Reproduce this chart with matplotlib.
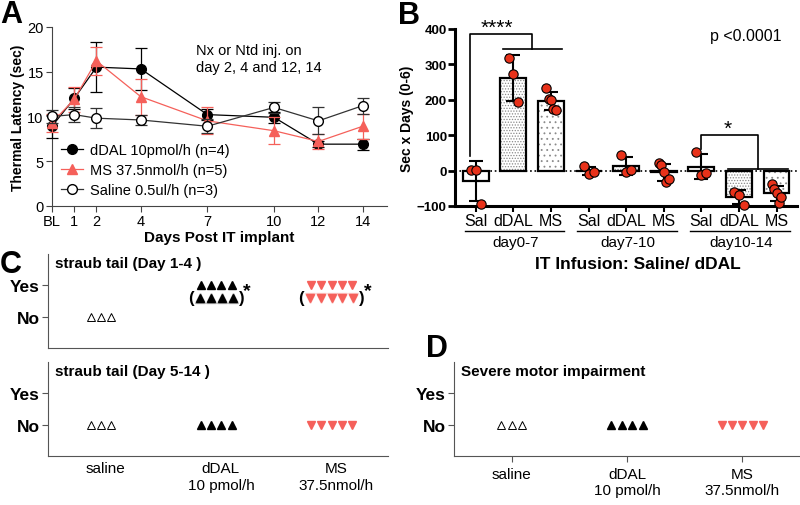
import numpy as np
import matplotlib.pyplot as plt

plt.rcParams['font.family'] = ['Liberation Sans', 'DejaVu Sans']
plt.rcParams['hatch.linewidth'] = 0.6

# ---- Panel A data: thermal latency over days
days = [0, 1, 2, 4, 7, 10, 12, 14]
day_labels = ['BL', '1', '2', '4', '7', '10', '12', '14']
ddal_mean = [8.9, 12.0, 15.5, 15.3, 10.2, 9.9, 6.9, 6.9]
ddal_err = [1.3, 1.2, 2.8, 2.3, 0.6, 0.6, 0.3, 0.6]
ms_mean = [9.3, 11.9, 16.2, 12.2, 9.5, 8.4, 7.2, 8.9]
ms_err = [1.0, 1.4, 1.6, 2.0, 1.5, 1.5, 0.8, 1.4]
sal_mean = [10.0, 10.2, 9.8, 9.6, 8.9, 11.0, 9.5, 11.2]
sal_err = [0.7, 0.8, 1.1, 0.6, 0.8, 0.6, 1.5, 0.9]

# ---- Panel B data: area (sec x days) per animal
b_groups = ['day0-7', 'day7-10', 'day10-14']
b_treat = ['Sal', 'dDAL', 'MS']
b_points = [
    [2, 2, -95], [319, 272, 193], [234, 201, 200, 173, 172],
    [13, -9, -5], [43, -3, 2], [22, 15, -5, -32, -25],
    [52, -12, -8], [-60, -69, -98], [-39, -53, -64, -93, -74],
]

# ---- Panel C/D data
cd_groups = ['saline', 'dDAL\n10 pmol/h', 'MS\n37.5nmol/h']
cd_counts = [3, 4, 5]
straub_early = [0, 1, 1]   # 1 = Yes, 0 = No
straub_late = [0, 0, 0]
motor = [0, 0, 0]

RED = '#F5605A'
fig = plt.figure(figsize=(8, 5.06), dpi=100)

# ================= A =================
axA = fig.add_axes([0.065, 0.591, 0.419, 0.354])
eb_d = axA.errorbar(days, ddal_mean, yerr=ddal_err, color='black', marker='o', ms=7,
                    lw=0.9, capsize=4, elinewidth=0.9, capthick=0.9, clip_on=False, zorder=3)
eb_m = axA.errorbar(days, ms_mean, yerr=ms_err, color=RED, marker='^', ms=7,
                    lw=0.9, capsize=4, elinewidth=0.9, capthick=0.9, clip_on=False, zorder=4)
eb_s = axA.errorbar(days, sal_mean, yerr=sal_err, color='#333333', marker='o', ms=7,
                    mfc='white', mec='black', lw=0.9, capsize=4, elinewidth=0.9,
                    capthick=0.9, clip_on=False, zorder=5)
axA.set_xlim(0, 15.1)
axA.set_ylim(0, 20)
axA.set_xticks(days, day_labels)
axA.set_yticks([0, 5, 10, 15, 20])
for s in ['top', 'right']:
    axA.spines[s].set_visible(False)
for s in ['left', 'bottom']:
    axA.spines[s].set_color('#444444')
axA.tick_params(labelsize=10.5, length=4, color='#444444', pad=2)
axA.set_xlabel('Days Post IT implant', fontsize=11, fontweight='bold', labelpad=1)
axA.set_ylabel('Thermal Latency (sec)', fontsize=10, fontweight='bold', labelpad=2)
axA.legend([eb_d[0], eb_m[0], eb_s[0]],
           ['dDAL 10pmol/h (n=4)', 'MS 37.5nmol/h (n=5)', 'Saline 0.5ul/h (n=3)'],
           loc='lower left', bbox_to_anchor=(0.0, 0.0), frameon=False, fontsize=10.5,
           handlelength=1.5, labelspacing=0.42, handletextpad=0.5, borderaxespad=0.2)
axA.text(0.43, 0.91, 'Nx or Ntd inj. on\nday 2, 4 and 12, 14', transform=axA.transAxes,
         fontsize=10.5, va='top', ha='left', linespacing=1.25)

# ================= B =================
axB = fig.add_axes([0.569, 0.591, 0.4275, 0.350])
xb = np.arange(len(b_points))
means = [np.mean(p) for p in b_points]
sds = [np.std(p, ddof=1) for p in b_points]
hatches = {'Sal': None, 'dDAL': '......', 'MS': '...'}
labels_b = b_treat * len(b_groups)
axB.axhline(0, color='black', ls=':', lw=1.2, zorder=1)
for i, (m, lab) in enumerate(zip(means, labels_b)):
    axB.bar(xb[i], m, width=0.69, color='white', edgecolor='#8a8a8a', lw=0,
            hatch=hatches[lab], zorder=2)
axB.bar(xb, means, width=0.69, fill=False, edgecolor='black', lw=1.6, zorder=3)
axB.errorbar(xb, means, yerr=sds, fmt='none', ecolor='black', elinewidth=1.5,
             capsize=5, capthick=1.5, zorder=4)
for i, pts in enumerate(b_points):
    off = np.linspace(-0.13, 0.13, len(pts))
    axB.scatter(xb[i] + off, pts, s=45, color='#E8321A', edgecolor='black',
                lw=0.8, zorder=5, clip_on=False)
axB.set_xlim(-0.55, 8.55)
axB.set_ylim(-100, 400)
axB.set_yticks([-100, 0, 100, 200, 300, 400])
axB.set_xticks(xb, labels_b)
for s in ['top', 'right']:
    axB.spines[s].set_visible(False)
for s in ['left', 'bottom']:
    axB.spines[s].set_linewidth(2.2)
axB.tick_params(axis='y', width=2, length=5, labelsize=9.5, pad=1)
axB.tick_params(axis='x', width=1.5, length=4, labelsize=11.5, pad=1)
for t in axB.get_yticklabels():
    t.set_fontweight('bold')
axB.set_ylabel('Sec x Days (0-6)', fontsize=10, fontweight='bold', labelpad=2)

# significance brackets
axB.plot([-0.15, -0.15, 1.5, 1.5], [40, 386, 386, 343], color='black', lw=1.2, clip_on=False)
axB.plot([0.72, 2.3], [343, 343], color='black', lw=1.2, clip_on=False)
axB.text(0.55, 405, '****', fontsize=15, ha='center', va='center', clip_on=False)
axB.plot([6.0, 6.0, 7.5, 7.5], [60, 101, 101, 4], color='black', lw=1.2)
axB.plot([6.7, 8.3], [4, 4], color='black', lw=1.2)
axB.text(6.7, 120, '*', fontsize=15, ha='center', va='center')
axB.text(0.745, 0.96, 'p <0.0001', transform=axB.transAxes, fontsize=11.5, va='center')

trB = axB.get_xaxis_transform()
for g, name in enumerate(b_groups):
    x0 = 3 * g
    axB.plot([x0 - 0.3, x0 + 2.35], [-0.14, -0.14], color='black', lw=1,
             transform=trB, clip_on=False)
    axB.text(x0 + 1.05, -0.165, name, transform=trB, fontsize=11, ha='center', va='top')
axB.text(0.535, -0.285, 'IT Infusion: Saline/ dDAL', transform=axB.transAxes,
         fontsize=12.5, fontweight='bold', ha='center', va='top')


# ================= C / D =================
def draw_cd(ax, resp, title, shift, tick_len, show_labels):
    for g, (n, r) in enumerate(zip(cd_counts, resp)):
        xs = g + shift + (np.arange(n) - (n - 1) / 2) * 0.09
        if g == 0:
            ax.plot(xs, [r] * n, ls='none', marker='^', ms=5.5, mfc='white', mec='black', mew=0.7)
        elif g == 1:
            ax.plot(xs, [r] * n, ls='none', marker='^', ms=5.5, color='black')
        else:
            ax.plot(xs, [r] * n, ls='none', marker='v', ms=5.5, color=RED)
    ax.set_xlim(-0.5, 2.45)
    ax.set_ylim(-1, 2)
    ax.set_yticks([0, 1], ['No', 'Yes'])
    ax.set_xticks(range(3), cd_groups if show_labels else [''] * 3)
    for s in ['top', 'right']:
        ax.spines[s].set_visible(False)
    for s in ['left', 'bottom']:
        ax.spines[s].set_color('#555555')
    ax.tick_params(axis='y', length=4, labelsize=12.5, pad=2, color='#555555')
    ax.tick_params(axis='x', length=tick_len, labelsize=11, pad=4, color='#555555')
    for t in ax.get_yticklabels():
        t.set_fontweight('bold')
    ax.text(0.02, 0.9, title, transform=ax.transAxes, fontsize=11, fontweight='bold',
            va='center', ha='left')


axC1 = fig.add_axes([0.06, 0.310, 0.425, 0.186])
draw_cd(axC1, straub_early, 'straub tail (Day 1-4 )', -0.04, 0, False)
# second (bracketed) row for the responders
for g, n in enumerate(cd_counts):
    if straub_early[g] == 1:
        xs = g - 0.04 + (np.arange(n) - (n - 1) / 2) * 0.095
        mk, col = ('^', 'black') if g == 1 else ('v', RED)
        axC1.plot(xs, [0.6] * n, ls='none', marker=mk, ms=7.5, color=col, alpha=0.25)
        axC1.plot(xs, [0.6] * n, ls='none', marker=mk, ms=6, color=col)
        axC1.text(xs[0] - 0.075, 0.62, '(', fontsize=12, fontweight='bold', ha='center', va='center')
        axC1.text(xs[-1] + 0.075, 0.62, ')', fontsize=12, fontweight='bold', ha='center', va='center')
        axC1.text(xs[-1] + 0.125, 0.82, '*', fontsize=14, fontweight='bold', ha='center', va='center')

axC2 = fig.add_axes([0.06, 0.097, 0.425, 0.186])
draw_cd(axC2, straub_late, 'straub tail (Day 5-14 )', -0.04, 0, True)

axD = fig.add_axes([0.5675, 0.097, 0.4325, 0.186])
draw_cd(axD, motor, 'Severe motor impairment', 0.0, 4, True)
axD.set_xlim(-0.5, 2.5)

# panel letters
fig.text(0.0, 1.0, 'A', fontsize=22, fontweight='bold', va='top', ha='left')
fig.text(0.497, 0.998, 'B', fontsize=22, fontweight='bold', va='top', ha='left')
fig.text(0.0, 0.505, 'C', fontsize=22, fontweight='bold', va='top', ha='left')
fig.text(0.532, 0.340, 'D', fontsize=22, fontweight='bold', va='top', ha='left')

fig.savefig('out.png', dpi=100)
